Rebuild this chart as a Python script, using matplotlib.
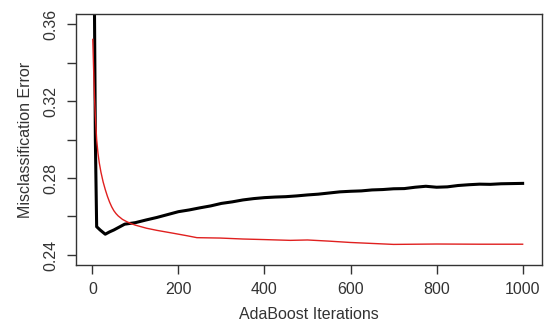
import matplotlib
matplotlib.use("Agg")
import matplotlib.pyplot as plt

plt.rcParams['font.family'] = ['Liberation Sans', 'DejaVu Sans']

# black curve
black_iter = [1, 5, 7, 10, 18, 30, 40, 50, 75, 100, 125, 150, 175, 200, 225, 250, 275,
              300, 325, 350, 375, 400, 425, 450, 475, 500, 525, 550, 575, 600, 625,
              650, 675, 700, 725, 750, 775, 800, 825, 850, 875, 900, 925, 950, 975, 1000]
black_err = [0.400, 0.365, 0.300, 0.2547, 0.2530, 0.2508, 0.2520, 0.2530, 0.2560, 0.2568,
             0.2582, 0.2595, 0.2610, 0.2625, 0.2634, 0.2645, 0.2655, 0.2668, 0.2676,
             0.2686, 0.2693, 0.2698, 0.2701, 0.2703, 0.2707, 0.2712, 0.2716, 0.2722,
             0.2728, 0.2731, 0.2733, 0.2738, 0.2740, 0.2744, 0.2745, 0.2752, 0.2757,
             0.2752, 0.2754, 0.2761, 0.2765, 0.2768, 0.2767, 0.2770, 0.2771, 0.2772]

# red curve
red_iter = [1, 3, 5, 7, 10, 13, 16, 20, 25, 30, 35, 40, 45, 50, 55, 60, 70, 80, 90,
            100, 113, 126, 150, 188, 220, 243, 297, 350, 400, 460, 500, 550, 600, 650,
            700, 800, 900, 1000]
red_err = [0.352, 0.336, 0.322, 0.312, 0.300, 0.293, 0.288, 0.283, 0.278, 0.274,
           0.2705, 0.2675, 0.2650, 0.2630, 0.2615, 0.2603, 0.2585, 0.2573, 0.2563,
           0.2555, 0.2547, 0.2539, 0.2528, 0.2513, 0.2500, 0.2490, 0.2488, 0.2483,
           0.2480, 0.2476, 0.2478, 0.2472, 0.2465, 0.2460, 0.2455, 0.2457, 0.2456,
           0.2456]

x_ticks = [0, 200, 400, 600, 800, 1000]
y_ticks = [0.24, 0.26, 0.28, 0.30, 0.32, 0.34, 0.36]
y_labels = ["0.24", "", "0.28", "", "0.32", "", "0.36"]

fig = plt.figure(figsize=(5.44, 3.31), dpi=100)
ax = fig.add_axes([76 / 544, 66 / 331, 466 / 544, 251 / 331])

ax.plot(black_iter, black_err, color='black', lw=2.2, solid_joinstyle='round')
ax.plot(red_iter, red_err, color='#e0201f', lw=1.0)

ax.set_xlim(-38, 1045)
ax.set_ylim(0.2348, 0.3652)
ax.set_xticks(x_ticks)
ax.set_yticks(y_ticks)
ax.set_yticklabels(y_labels, rotation=90, va='center')
ax.tick_params(length=6.5, width=1.0, labelsize=11.5, pad=6, color='#333333',
               labelcolor='#333333')

for s in ax.spines.values():
    s.set_linewidth(1.0)
    s.set_color('#333333')

ax.set_xlabel("AdaBoost Iterations", fontsize=11.5, color='#333333', labelpad=7)
ax.set_ylabel("Misclassification Error", fontsize=11.5, color='#333333', labelpad=8)

fig.savefig("out.png", dpi=100)
